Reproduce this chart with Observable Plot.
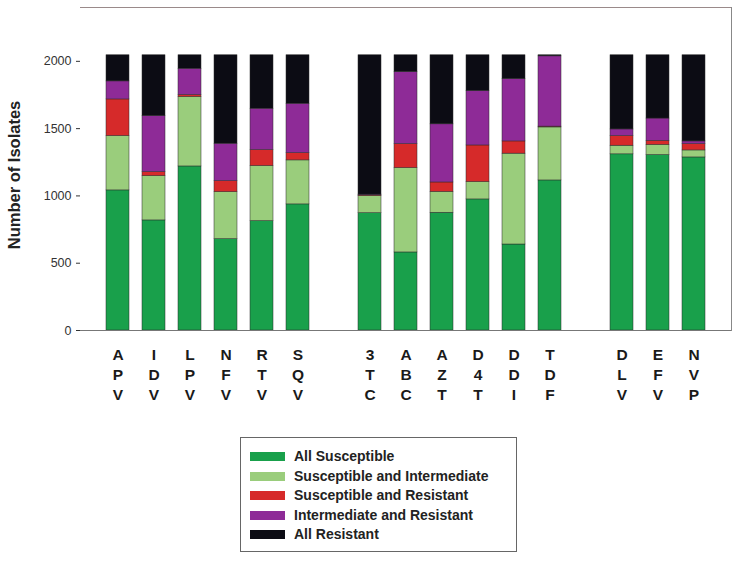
<!DOCTYPE html>
<html>
<head>
<meta charset="utf-8">
<script src="https://cdn.jsdelivr.net/npm/d3@7"></script>
<script src="https://cdn.jsdelivr.net/npm/@observablehq/plot@0.6"></script>
<style>
  html, body { margin: 0; padding: 0; background: #fff; }
  #wrap { position: relative; width: 741px; height: 563px; font-family: "Liberation Sans", Arial, sans-serif; }
  #legend { position: absolute; left: 240px; top: 437px; width: 275px; height: 113px; border: 1px solid #666; box-sizing: content-box; }
  .row { position: absolute; left: 9px; height: 16px; display: flex; align-items: center; font-weight: bold; font-size: 14px; color: #222; }
  .sw { width: 35px; height: 9px; margin-right: 9px; }
</style>
</head>
<body>
<div id="wrap"><div id="chart"></div><div id="legend"></div></div>
<script>
const drugs = ["APV","IDV","LPV","NFV","RTV","SQV","gap1","3TC","ABC","AZT","D4T","DDI","TDF","gap2","DLV","EFV","NVP"];
const allSusceptible      = [1041, 818, 1219, 679, 813, 937, null, 872, 580, 875, 974, 639, 1115, null, 1309, 1304, 1286];
const suscIntermediate    = [ 404, 329,  516, 349, 409, 327, null, 127, 627, 155, 129, 675,  394, null,   64,   75,   52];
const suscResistant       = [ 272,  30,   15,  82, 119,  54, null,   5, 178,  70, 272,  91,    6, null,   72,   30,   47];
const intermResistant     = [ 134, 416,  195, 278, 307, 367, null,   6, 535, 432, 404, 463,  522, null,   49,  166,   20];
const allResistant        = [ 194, 452,  100, 657, 397, 360, null,1035, 125, 513, 266, 177,    8, null,  551,  470,  640];
const categories = ["All Susceptible","Susceptible and Intermediate","Susceptible and Resistant","Intermediate and Resistant","All Resistant"];
const colors = ["#19a04b","#9acd7c","#d62a2a","#8e2b97","#0c0c14"];
const yTicks = [0, 500, 1000, 1500, 2000];

const series = [allSusceptible, suscIntermediate, suscResistant, intermResistant, allResistant];
const data = [];
drugs.forEach((d, i) => {
  series.forEach((s, j) => {
    if (s[i] != null) data.push({drug: d, category: categories[j], value: s[i]});
  });
});
const realDrugs = drugs.filter(d => !d.startsWith("gap"));

const plot = Plot.plot({
  width: 741,
  height: 415,
  marginLeft: 80,
  marginRight: 10,
  marginTop: 7,
  marginBottom: 85,
  style: {fontFamily: "'Liberation Sans', Arial, sans-serif", background: "#fff"},
  x: {domain: drugs, paddingInner: 0.36, paddingOuter: 0.68},
  y: {domain: [0, 2400]},
  color: {domain: categories, range: colors},
  marks: [
    Plot.barY(data, Plot.stackY({order: null}, {x: "drug", y: "value", fill: "category", stroke: "#2a2a2a", strokeWidth: 0.5})),
    Plot.frame({anchor: "top", stroke: "#9a8a8a"}),
    Plot.frame({anchor: "right", stroke: "#888"}),
    Plot.ruleX([0], {frameAnchor: "left", stroke: "#555"}),
    Plot.ruleY([0], {stroke: "#777", strokeWidth: 1.2}),
    Plot.axisY({ticks: yTicks, tickSize: 4, tickPadding: 5, fontSize: 12.5, color: "#333", label: null, tickFormat: d => String(d)}),
    Plot.axisX({ticks: realDrugs, tickSize: 0, tickPadding: 15, fontSize: 15.5, fontWeight: "bold", lineHeight: 1.3, fill: "#1a1a1a", label: null,
      tickFormat: d => d.split("").join("\n")}),
    Plot.text(["Number of Isolates"], {frameAnchor: "left", textAnchor: "middle", dx: -66, dy: 6, rotate: -90, fontSize: 16.5, fontWeight: "bold", fill: "#222"})
  ]
});
document.getElementById("chart").appendChild(plot);

const legend = document.getElementById("legend");
const rowTops = [10, 30, 49, 69, 88];
categories.forEach((c, i) => {
  const row = document.createElement("div");
  row.className = "row";
  row.style.top = rowTops[i] + "px";
  const sw = document.createElement("div");
  sw.className = "sw";
  sw.style.background = colors[i];
  const t = document.createElement("span");
  t.textContent = c;
  row.appendChild(sw);
  row.appendChild(t);
  legend.appendChild(row);
});
</script>
</body>
</html>
